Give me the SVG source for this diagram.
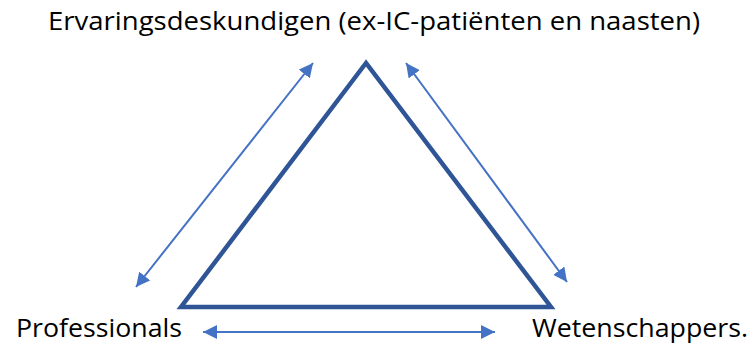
<svg xmlns="http://www.w3.org/2000/svg" width="753" height="345" viewBox="0 0 753 345">
<style>
.lbl{font-family:"Open Sans","Noto Sans","Liberation Sans",sans-serif;font-size:26px;fill:#000}
.tri{fill:none;stroke:#2F5597;stroke-width:4.5;stroke-linejoin:miter}
.arr{stroke:#4472C4;stroke-width:2;fill:none;marker-start:url(#ah);marker-end:url(#ah)}
</style>
<defs>
<marker id="ah" viewBox="0 0 10 10" refX="10" refY="5" markerWidth="7" markerHeight="7" orient="auto-start-reverse" markerUnits="strokeWidth">
<path d="M0,0 L10,5 L0,10 Z" fill="#4472C4"/>
</marker>
</defs>
<g id="triangle"><polygon class="tri" points="366,63 181,307 551,307"/></g>
<g id="connectors">
<line class="arr" x1="136" y1="287" x2="313" y2="63"/>
<line class="arr" x1="406" y1="63" x2="567" y2="282"/>
<line class="arr" x1="203" y1="332" x2="495" y2="332"/>
</g>
<g id="node-top"><text class="lbl" x="48" y="30" textLength="652" lengthAdjust="spacingAndGlyphs">Ervaringsdeskundigen (ex-IC-patiënten en naasten)</text></g>
<g id="node-left"><text class="lbl" x="16" y="337" textLength="166" lengthAdjust="spacingAndGlyphs">Professionals</text></g>
<g id="node-right"><text class="lbl" x="532" y="337" textLength="216" lengthAdjust="spacingAndGlyphs">Wetenschappers.</text></g>
</svg>
